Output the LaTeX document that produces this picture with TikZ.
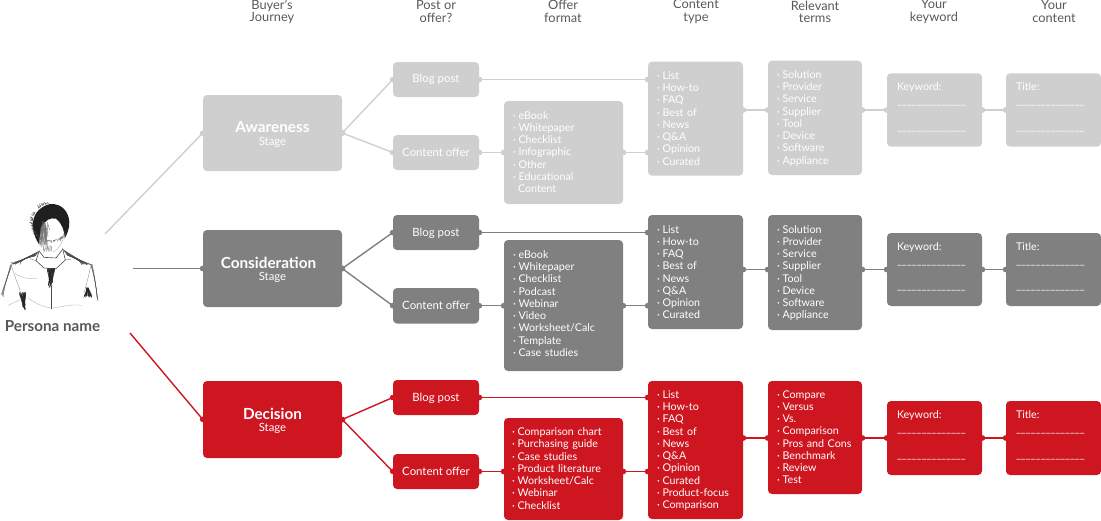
\documentclass[tikz,border=0pt]{standalone}
\usepackage{fontspec}
\setmainfont{Lato}
\usetikzlibrary{arrows.meta,calc}
\definecolor{lg}{HTML}{CFCFCF}
\definecolor{dg}{HTML}{808080}
\definecolor{rd}{HTML}{CE1620}
\definecolor{hd}{HTML}{595959}
\tikzset{
  box/.style={rectangle,rounded corners=4pt,inner ysep=0pt,inner xsep=0pt,text=white,font=\fontsize{11.4}{12.2}\selectfont,draw=none},
  link/.style={line width=1.4pt,shorten <=-2.5pt,shorten >=-2.5pt,{Circle[length=5.5pt,width=5.5pt]}-{Circle[length=5.5pt,width=5.5pt]}},
  feed/.style={line width=1.4pt,shorten >=-2.5pt,-{Circle[length=5.5pt,width=5.5pt]}},
  head/.style={text=hd,align=center,font=\fontsize{12.8}{12.3}\selectfont,inner sep=0pt},
  sk/.style={line width=.3pt,black!70,line cap=round},
}
% name, x1, y1, x2, y2, colour, left padding, text
\newcommand{\bx}[8]{%
  \pgfmathsetmacro{\bw}{#4-#2}\pgfmathsetmacro{\bh}{#5-#3}%
  \pgfmathsetmacro{\bt}{#4-#2-2*#7}%
  \node[box,fill=#6,minimum width=\bw pt,minimum height=\bh pt,text width=\bt pt,align=left,font=\fontsize{10.7}{12.25}\selectfont] (#1) at ({(#2+#4)/2},{(#3+#5)/2}) {\begin{tabular}{@{}l@{}}#8\end{tabular}};}
\newcommand{\cx}[7]{%
  \pgfmathsetmacro{\bw}{#4-#2}\pgfmathsetmacro{\bh}{#5-#3}%
  \node[box,fill=#6,minimum width=\bw pt,minimum height=\bh pt,align=center] (#1) at ({(#2+#4)/2},{(#3+#5)/2}) {#7};}
\newcommand{\stg}[1]{\rule{0pt}{14pt}{\fontsize{15.3}{14}\selectfont\bfseries #1}\\[.5pt]{\fontsize{11.3}{11}\selectfont Stage}}
\newcommand{\bl}{·\hspace{2.8pt}}
\newcommand{\ctypes}{\bl List\\\bl How-to\\\bl FAQ\\\bl Best of\\\bl News\\\bl Q\&A\\\bl Opinion\\\bl Curated}
\newcommand{\terms}{\bl Solution\\\bl Provider\\\bl Service\\\bl Supplier\\\bl Tool\\\bl Device\\\bl Software\\\bl Appliance}
\newcommand{\uline}{\_\_\_\_\_\_\_\_\_\_\_\_\_\_}
\newcommand{\kwlines}[1]{#1\\[1.5pt]\uline\\[1pt]\mbox{}\\\uline\\[3.7pt]}
\begin{document}
\begin{tikzpicture}[x=1pt,y=-1pt]
\useasboundingbox (0,0) rectangle (1101,520);
% headers
\node[head] (h1) at (272,11.5) {Buyer's\\Journey};
\node[head] (h2) at (436,11.5) {Post or\\offer?};
\node[head] (h3) at (563,11.5) {Offer\\format};
\node[head] (h4) at (696,11.5) {Content\\type};
\node[head] (h5) at (815,11.5) {Relevant\\terms};
\node[head] (h6) at (934,11.5) {Your\\keyword};
\node[head] (h7) at (1054,11.5) {Your\\content};
% persona sketch (own coordinates: 3 units per pixel)
\begin{scope}[shift={(0,198)},x=.3333pt,y=-.3333pt]
  % hair
  \fill[black!88] (98,85) .. controls (98,55) and (112,28) .. (150,18) .. controls (185,16) and (206,40) .. (208,72) .. controls (209,92) and (200,110) .. (194,122) .. controls (194,98) and (186,76) .. (168,62) .. controls (150,58) and (134,66) .. (126,90) .. controls (120,108) and (118,125) .. (118,140) .. controls (108,125) and (100,108) .. (98,85) -- cycle;
  \pgfmathsetseed{7}
  \foreach \i in {1,...,90}{
    \pgfmathsetmacro{\an}{150+rand*115}
    \pgfmathsetmacro{\ln}{3+rnd*7}
    \draw[sk,black!70] ($(152,72)+(\an:54 and 55)$) -- ++({\an+rand*60}:\ln);
  }
  % face shading
  \foreach \i in {1,...,34}{
    \pgfmathsetmacro{\xa}{122+rnd*22}
    \pgfmathsetmacro{\ya}{70+rnd*25}
    \draw[sk,black!55,line width=.4pt] (\xa,\ya) -- ({\xa-6+rnd*14},{\ya+18+rnd*42});
  }
  \foreach \i in {1,...,14}{
    \pgfmathsetmacro{\xa}{128+rnd*28}
    \draw[sk,black!45] (\xa,143) -- ({\xa+rand*6},{155+rnd*8});
  }
  \draw[sk,black!35] (192,100) .. controls (192,125) and (182,150) .. (160,162);
  % shoulders
  \foreach \i in {1,...,16}{
    \pgfmathsetmacro{\t}{rnd}
    \draw[sk,black!70] ({118-\t*12},{158+\t*16}) .. controls ({85-\t*10},{176+\t*4}) and (60,190) .. ({30+rnd*35},{194+rnd*6});
    \draw[sk,black!70] ({188+\t*14},{152+\t*20}) .. controls ({212+\t*6},{170+\t*8}) and (245,190) .. ({280-rnd*35},{196+rnd*6});
  }
  % collar and neck
  \draw[sk,line width=.6pt] (118,158) -- (108,188) -- (132,210) -- (168,212) -- (196,186) -- (188,152);
  \draw[sk,line width=.6pt] (118,160) -- (132,178) -- (168,180) -- (188,154);
  \draw[sk] (108,188) -- (90,182);
  \draw[sk] (196,186) -- (212,184);
  \foreach \i in {1,...,30}{
    \pgfmathsetmacro{\xa}{140+rnd*26}
    \draw[sk,black!85,line width=.5pt] (\xa,212) -- ({152+rand*7},{235+rnd*35});
  }
  % shadows on the shirt
  \foreach \i in {1,...,24}{
    \pgfmathsetmacro{\xa}{56+rnd*24}
    \draw[sk,black!85,line width=.5pt] (\xa,{282+rnd*8}) -- ({72+rand*4},{312+rnd*24});
    \pgfmathsetmacro{\xb}{250+rnd*28}
    \draw[sk,black!85,line width=.5pt] ({263+rand*4},{268+rnd*8}) -- (\xb,{292+rnd*6});
  }
  \draw[sk,line width=.7pt] (155,265) -- (155,332);
  \foreach \i in {1,...,4}{
    \draw[sk] ({30+\i*1.5},200) .. controls (22,240) and (12,265) .. ({2+\i*2},{288+\i*2});
    \draw[sk] ({278-\i*1.5},200) .. controls (285,240) and (290,280) .. ({295-\i},{312-\i*3});
  }
  \draw[sk,black!50] (35,205) .. controls (48,250) and (60,270) .. (62,285);
  \draw[sk,black!50] (272,205) .. controls (265,240) and (258,262) .. (252,285);
  \draw[sk,black!35] (25,322) -- (60,305);
  \draw[sk,black!35] (85,300) .. controls (110,320) and (130,325) .. (152,330);
  \draw[sk,black!35] (45,225) .. controls (60,240) and (90,245) .. (110,240);
  \draw[sk,black!35] (160,330) .. controls (190,325) and (220,318) .. (245,322);
\end{scope}
\node[text=hd,font=\fontsize{15.2}{15}\selectfont\bfseries,inner sep=0pt] (persona) at (52.5,326.5) {Persona name};
\coordinate (fromA) at (105,234);
\coordinate (fromB) at (133,268.5);
\coordinate (fromC) at (130,333);

% Awareness row
\cx{stA}{203}{95}{342}{171}{lg}{\stg{Awareness}}
\cx{blA}{393}{62}{479}{97}{lg}{Blog post}
\cx{coA}{393}{135}{479}{170}{lg}{Content offer}
\bx{ofA}{504}{101}{623}{204}{lg}{9}{\bl eBook\\\bl Whitepaper\\\bl Checklist\\\bl Infographic\\\bl Other\\\bl Educational\\\hspace*{5pt}Content\\[-2pt]}
\bx{ctA}{648}{61.7}{743}{175.7}{lg}{9}{\ctypes\\[-2pt]}
\bx{trA}{768}{60.7}{862}{175}{lg}{9}{\terms\\[-2pt]}
\bx{kwA}{887}{73.3}{982}{146.7}{lg}{10}{\kwlines{Keyword:}}
\bx{tiA}{1006}{73.3}{1101}{146.7}{lg}{10}{\kwlines{Title:}}
% Consideration row
\cx{stB}{203}{230}{342}{307}{dg}{\stg{\hspace*{-8pt}Consideration}}
\cx{blB}{393}{215}{479}{250}{dg}{\rule{0pt}{10pt}Blog post}
\cx{coB}{393}{288}{479}{323.5}{dg}{Content offer}
\bx{ofB}{504}{240}{623}{371}{dg}{9}{\bl eBook\\\bl Whitepaper\\\bl Checklist\\\bl Podcast\\\bl Webinar\\\bl Video\\\bl Worksheet/Calc\\\bl Template\\\bl Case studies\\[1pt]}
\bx{ctB}{648}{215}{743}{329}{dg}{9}{\ctypes\\[-3pt]}
\bx{trB}{768}{215}{862}{330}{dg}{9}{\terms\\[-2pt]}
\bx{kwB}{887}{233}{982}{306}{dg}{10}{\kwlines{Keyword:}}
\bx{tiB}{1006}{233}{1101}{306}{dg}{10}{\kwlines{Title:}}
% Decision row
\cx{stC}{203}{381}{342}{458}{rd}{\stg{Decision}}
\cx{blC}{393}{380}{479}{415}{rd}{\rule{0pt}{10pt}Blog post}
\cx{coC}{393}{454}{479}{489}{rd}{Content offer}
\bx{ofC}{504}{418}{623}{520}{rd}{8}{\bl Comparison chart\\\bl Purchasing guide\\\bl Case studies\\\bl Product literature\\\bl Worksheet/Calc\\\bl Webinar\\\bl Checklist\\[-2pt]}
\bx{ctC}{648}{381}{743}{519}{rd}{9}{\ctypes\\\bl Product-focus\\\bl Comparison\\[-2pt]}
\bx{trC}{768}{381}{862}{494}{rd}{9}{\bl Compare\\\bl Versus\\\bl Vs.\\\bl Comparison\\\bl Pros and Cons\\\bl Benchmark\\\bl Review\\\bl Test\\[-2pt]}
\bx{kwC}{887}{401}{982}{475}{rd}{10}{\kwlines{Keyword:}}
\bx{tiC}{1006}{401}{1101}{475}{rd}{10}{\kwlines{Title:}}

% connectors
\draw[feed,lg] (fromA) -- (stA.west);
\draw[feed,dg] (fromB) -- (stB.west);
\draw[feed,rd] (fromC) -- (stC.west);
\foreach \r/\c in {A/lg,B/dg,C/rd}{
  \draw[link,\c] (st\r.east) -- (bl\r.west);
  \draw[link,\c] (st\r.east) -- (co\r.west);
  \draw[link,\c] (bl\r.east) -- (ct\r.west |- bl\r.east);
  \draw[link,\c] (co\r.east) -- (of\r.west |- co\r.east);
  \draw[link,\c] (of\r.east |- co\r.east) -- (ct\r.west |- co\r.east);
  \draw[link,\c] (kw\r.east) -- (ti\r.west);
  \draw[link,\c] (tr\r.east |- kw\r.west) -- (kw\r.west);
  \draw[link,\c] (ct\r.east |- kw\r.west) -- (tr\r.west |- kw\r.west);
}
\end{tikzpicture}
\end{document}
